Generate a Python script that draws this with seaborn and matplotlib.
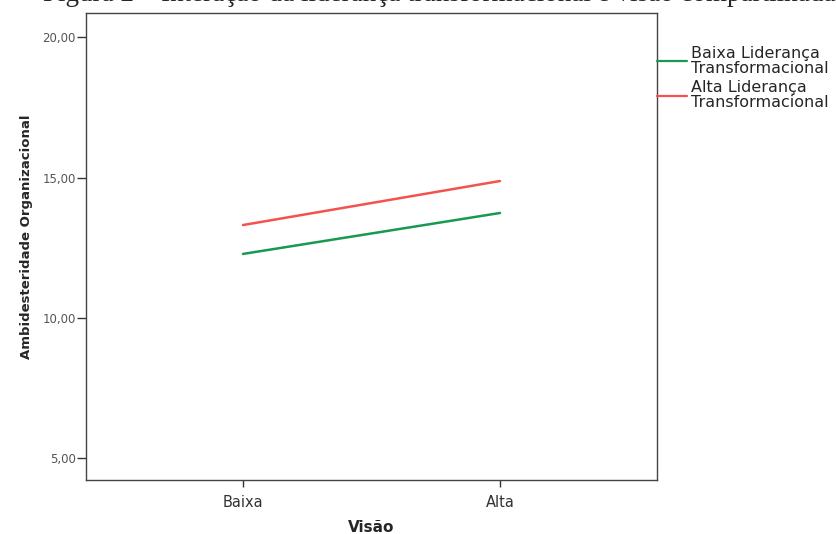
import pandas as pd
import seaborn as sns
import matplotlib.pyplot as plt

visao = ['Baixa', 'Alta']
grupos = ['Baixa Liderança\nTransformacional', 'Alta Liderança\nTransformacional']
baixa_lider = [12.28, 13.74]
alta_lider = [13.31, 14.88]
y_ticks = [5, 10, 15, 20]
y_tick_labels = ['5,00', '10,00', '15,00', '20,00']

df = pd.DataFrame({
    'visao': visao * 2,
    'ambidesteridade': baixa_lider + alta_lider,
    'grupo': [grupos[0]] * 2 + [grupos[1]] * 2,
})
df['x'] = df['visao'].map({v: i for i, v in enumerate(visao)})

sns.set_style('white')
plt.rcParams['font.family'] = ['DejaVu Sans']

fig = plt.figure(figsize=(8.37, 5.34), dpi=100)
ax = fig.add_axes([86 / 837, 1 - 480 / 534, (657 - 86) / 837, (480 - 13) / 534])

sns.lineplot(data=df, x='x', y='ambidesteridade', hue='grupo',
             palette=['#179a50', '#f5524f'], linewidth=1.8, ax=ax)

ax.set_xlim(-0.611, 1.611)
ax.set_ylim(4.22, 20.87)
ax.set_xticks([0, 1])
ax.set_xticklabels(visao, fontsize=10.5, color='#333333')
ax.set_yticks(y_ticks)
ax.set_yticklabels(y_tick_labels, fontsize=8.5, color='#555555')
ax.tick_params(axis='y', length=6.5, width=1, color='#333333', left=True, pad=1)
ax.tick_params(axis='x', length=5, width=1, color='#333333', bottom=True, pad=6)
for s in ax.spines.values():
    s.set_color('#444444')
    s.set_linewidth(1)

ax.set_xlabel('Visão', fontsize=11, fontweight='bold', labelpad=7)
ax.set_ylabel('Ambidesteridade Organizacional', fontsize=9.5, fontweight='bold')
ax.yaxis.set_label_coords(-0.093, 0.52)

leg = ax.legend(loc='upper left', bbox_to_anchor=(1.0, 0.93), frameon=False,
                fontsize=11.5, handlelength=1.9, handletextpad=0.2,
                labelspacing=0.3, borderaxespad=0, borderpad=0)
for t in leg.get_texts():
    t.set_linespacing(1.0)
for line in leg.get_lines():
    line.set_linewidth(1.6)

fig.text(0.051, 0.998, 'Figura 2 – Interação da liderança transformacional e visão compartilhada',
         fontsize=19.5, family='Liberation Serif', va='baseline', ha='left')

fig.savefig('out.png', dpi=100)
